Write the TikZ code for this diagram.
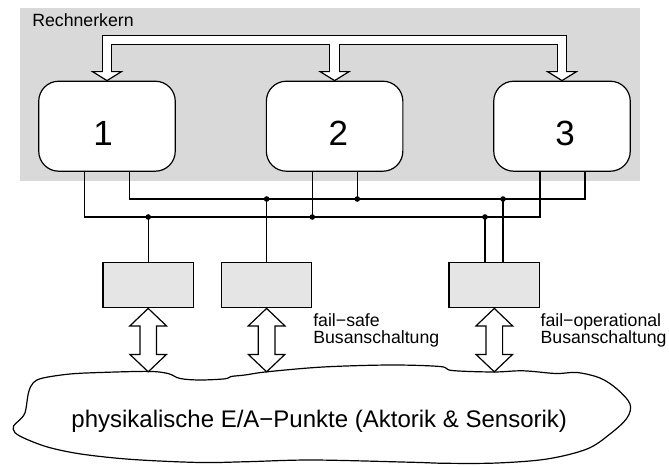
\documentclass[tikz,border=0pt]{standalone}
\usepackage{fontspec}
\setmainfont{Liberation Sans}
\usetikzlibrary{calc}
\definecolor{corebg}{gray}{0.85}
\definecolor{unitfill}{gray}{0.9}
\tikzset{
  bidir/.pic={
    \draw[fill=white, line join=miter]
      (0,0) -- (18.3,17.5) -- (8.3,17.5) -- (8.3,46) -- (18.3,46) -- (0,63.4)
      -- (-18.3,46) -- (-8.3,46) -- (-8.3,17.5) -- (-18.3,17.5) -- cycle;
  }
}
\begin{document}
\begin{tikzpicture}[x=1pt, y=-1pt, line width=1.2pt,
  core/.style={draw, fill=white, rounded corners=20pt, minimum width=136.5pt,
    minimum height=90pt, inner sep=0pt},
  unit/.style={draw, fill=unitfill, minimum width=90.5pt, minimum height=45pt, inner sep=0pt},
  num/.style={font=\fontsize{35}{40}\selectfont, anchor=base, inner sep=0pt},
  note/.style={font=\fontsize{17.7}{16.6}\selectfont, align=left, anchor=base west, inner sep=0pt},
  junction/.style={circle, fill, inner sep=0pt, minimum size=5.6pt},
]
\useasboundingbox (0,0) rectangle (669,466);

% computing core background
\fill[corebg] (20,8) rectangle (640,180.5);
\node[anchor=base west, inner sep=0pt, font=\fontsize{17.7}{20}\selectfont] (title) at (31.7,26) {Rechnerkern};

% the three channels
\node[core] (b1) at (107,126.2) {};
\node[core] (b2) at (334.6,126.2) {};
\node[core] (b3) at (562,126.2) {};
\node[num] (n1) at (103,145) {1};
\node[num] (n2) at (338.3,145) {2};
\node[num] (n3) at (565,145) {3};

% hollow cross-channel link
\coordinate (rail) at (0,39.7);
\path (b1.north) ++(0,-9) coordinate (h1);
\path (b2.north) ++(0,-9) coordinate (h2);
\path (b3.north) ++(0,-9) coordinate (h3);
\draw[line width=10.3pt, line join=miter] (h1) -- (b1.north |- rail) -- (b3.north |- rail) -- (h3);
\draw[line width=10.3pt] (b2.north |- rail) -- (h2);
\foreach \b in {b1,b2,b3}
  \draw[fill=white, line join=miter] (\b.north) -- ++(-14.5,-9) -- ++(29,0) -- cycle;
\draw[white, line width=8.3pt, line join=miter] ($(h1)+(0,0.9)$) -- (b1.north |- rail) -- (b3.north |- rail) -- ($(h3)+(0,0.9)$);
\draw[white, line width=8.3pt] (b2.north |- rail) -- ($(h2)+(0,0.9)$);

% bus interfaces
\node[unit] (s1) at (148.2,285.3) {};
\node[unit] (s2) at (266.6,285.3) {};
\node[unit] (s3) at (494.3,285.3) {};

% two buses
\coordinate (L0) at (84.6,217);
\coordinate (L4) at (540,217);
\coordinate (U0) at (129.6,199);
\coordinate (U4) at (585,199);
\coordinate (jl1) at (148.2,217);
\coordinate (jl2) at (312.3,217);
\coordinate (jl3) at (485,217);
\coordinate (ju1) at (266.6,199);
\coordinate (ju2) at (357.3,199);
\coordinate (ju3) at (503,199);
\draw (b1.south -| L0) -- (L0) -- (L4) -- (b3.south -| L4);
\draw (b1.south -| U0) -- (U0) -- (U4) -- (b3.south -| U4);
\draw (b2.south -| jl2) -- (jl2);
\draw (b2.south -| ju2) -- (ju2);
\draw (jl1) -- (s1.north);
\draw (ju1) -- (s2.north);
\draw (jl3) -- (s3.north -| jl3);
\draw (ju3) -- (s3.north -| ju3);
\foreach \j in {jl1,jl2,jl3,ju1,ju2,ju3}
  \node[junction] at (\j) {};

% field level
\draw[line width=1.2pt] plot[smooth cycle, tension=0.55] coordinates {
  (43,378) (70,374) (100,372.5) (148,371.4) (168,373.5) (180,378.5) (200,380)
  (225,378.8) (231,376.5) (245,375) (267,371.8) (323,367) (390,365) (440,366.5)
  (452,370.5) (493,372) (523,370.8) (556,373.5) (577,372.5) (600,378) (617,389)
  (630,404) (627,418) (610,434) (587,449) (547,459) (497,463) (446,463.3)
  (413,462.3) (313,460) (247,461.7) (200,462.5) (133,459.5) (83,454.3)
  (50,447.7) (26.7,439.3) (15,432.7) (13.5,426) (18.5,421) (25,412.7)
  (28.5,392.7) (33.3,382.7)};
\node[anchor=base, inner sep=0pt, font=\fontsize{24}{28}\selectfont] (io) at (319.2,427.7)
  {physikalische E/A−Punkte (Aktorik \& Sensorik)};

% links between interfaces and field level
\pic at (s1.south) {bidir};
\pic at (s2.south) {bidir};
\pic at (s3.south) {bidir};

% the second line's baseline carries the anchor
\node[note] (fs) at (312.7,343.3) {fail−safe\\Busanschaltung};
\node[note] (fo) at (540,343.3) {fail−operational\\Busanschaltung};
\end{tikzpicture}
\end{document}
